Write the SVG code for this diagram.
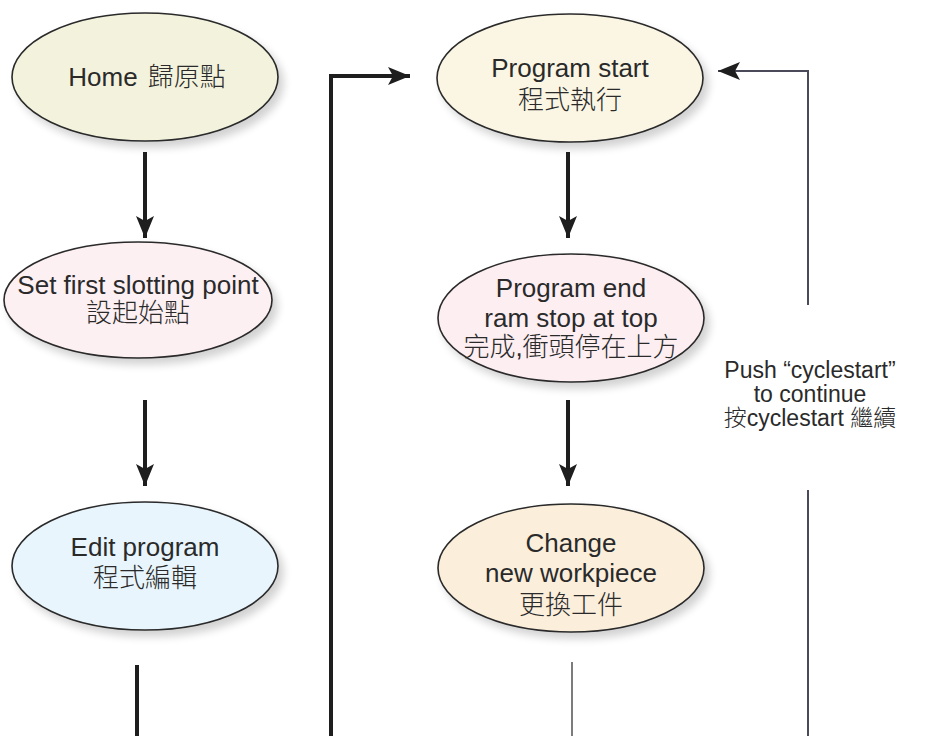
<svg xmlns="http://www.w3.org/2000/svg" width="928" height="736" viewBox="0 0 928 736">
<defs>
<style>
.node ellipse{stroke:#2a2a2a;stroke-width:1.6;filter:url(#sh)}
.node text,.lbl{font-family:"Liberation Sans","Noto Sans CJK TC",sans-serif;font-size:26px;fill:#2a2a2a;text-anchor:middle}
.cjk{font-family:"Noto Sans CJK TC",sans-serif;font-weight:300}
.lbl{font-size:23px}
.thick{stroke:#1e1e1e;stroke-width:4;fill:none}
.thin{stroke:#4a4a5a;stroke-width:2;fill:none}
.hair{stroke:#444;stroke-width:1.4;fill:none}
</style>
<filter id="sh" x="-10%" y="-10%" width="125%" height="130%">
<feGaussianBlur in="SourceAlpha" stdDeviation="4"/>
<feOffset dx="5" dy="6" result="b"/>
<feComponentTransfer><feFuncA type="linear" slope="0.18"/></feComponentTransfer>
<feMerge><feMergeNode/><feMergeNode in="SourceGraphic"/></feMerge>
</filter>
<marker id="ah" markerUnits="userSpaceOnUse" markerWidth="24" markerHeight="18" refX="22" refY="9" orient="auto">
<path d="M0,0 L22,9 L0,18 L5,9 Z" fill="#1e1e1e"/>
</marker>
</defs>
<rect width="928" height="736" fill="#ffffff"/>
<g id="connectors">
<path class="thick" d="M145,152 V238" marker-end="url(#ah)"/>
<path class="thick" d="M145,400 V486" marker-end="url(#ah)"/>
<path class="thick" d="M137,665 V736"/>
<path class="thick" d="M568,152 V238" marker-end="url(#ah)"/>
<path class="thick" d="M568,400 V486" marker-end="url(#ah)"/>
<path class="hair" d="M572,662 V736"/>
<path class="thick" d="M331,736 V76 H410" marker-end="url(#ah)"/>
<path class="thin" d="M808,305 V71 H718" marker-end="url(#ah)"/>
<path class="thin" d="M808,490 V736"/>
</g>
<g id="home" class="node">
<ellipse cx="145" cy="77" rx="133" ry="64" fill="#f3f3dd"/>
<text x="147" y="86">Home<tspan class="cjk" dx="10">歸原點</tspan></text>
</g>
<g id="set-first" class="node">
<ellipse cx="138" cy="300" rx="134" ry="58" fill="#fdf0f3"/>
<text x="138" y="294">Set first slotting point</text>
<text x="138" y="322" class="cjk">設起始點</text>
</g>
<g id="edit-program" class="node">
<ellipse cx="145" cy="566" rx="133" ry="64" fill="#e8f5fc"/>
<text x="145" y="556">Edit program</text>
<text x="145" y="587" class="cjk">程式編輯</text>
</g>
<g id="program-start" class="node">
<ellipse cx="570" cy="78" rx="133" ry="64" fill="#fbf6e4"/>
<text x="570" y="77">Program start</text>
<text x="570" y="109" class="cjk">程式執行</text>
</g>
<g id="program-end" class="node">
<ellipse cx="571" cy="318" rx="133" ry="64" fill="#fdeef2"/>
<text x="571" y="297">Program end</text>
<text x="571" y="327">ram stop at top</text>
<text x="571" y="356" class="cjk">完成,衝頭停在上方</text>
</g>
<g id="change-workpiece" class="node">
<ellipse cx="571" cy="568" rx="133" ry="64" fill="#fbefdc"/>
<text x="571" y="552">Change</text>
<text x="571" y="582">new workpiece</text>
<text x="571" y="614" class="cjk">更換工件</text>
</g>
<g id="push-label">
<text class="lbl" x="810" y="378">Push “cyclestart”</text>
<text class="lbl" x="810" y="402">to continue</text>
<text class="lbl" x="810" y="426"><tspan class="cjk">按</tspan>cyclestart <tspan class="cjk">繼續</tspan></text>
</g>
</svg>
